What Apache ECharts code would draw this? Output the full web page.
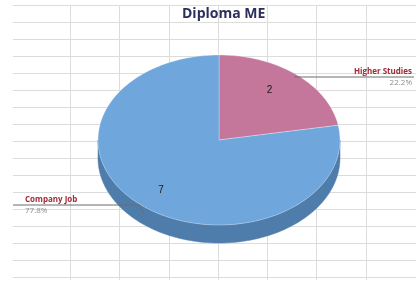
<!DOCTYPE html>
<html>
<head>
<meta charset="utf-8">
<script src="https://cdn.jsdelivr.net/npm/echarts@6/dist/echarts.min.js"></script>
<style>
  html, body { margin: 0; padding: 0; background: #fff; }
  #chart { width: 416px; height: 293px; }
</style>
</head>
<body>
<div id="chart"></div>
<script>
// slice data
var categories = ['Higher Studies', 'Company Job']
var counts = [2, 7]
var topColors = ['#C4769B', '#6FA6DC']
var sideColors = ['#9A5577', '#4E7DAB']

var total = counts.reduce(function (a, b) { return a + b }, 0)

// fake 3d pie geometry
var cx = 219
var cy = 140
var rx = 121
var ry = 85
var depth = 18

function pt (a, r, dy) {
  return [cx + rx * r * Math.sin(a), cy - ry * r * Math.cos(a) + (dy || 0)]
}

function arcPoints (a0, a1, dy) {
  var pts = []
  var n = Math.max(2, Math.ceil((a1 - a0) / 0.02))
  for (var i = 0; i <= n; i++) pts.push(pt(a0 + (a1 - a0) * i / n, 1, dy))
  return pts
}

function renderSlice (params, api) {
  var idx = params.dataIndex
  var before = 0
  for (var i = 0; i < idx; i++) before += counts[i]
  var a0 = before / total * Math.PI * 2
  var a1 = (before + counts[idx]) / total * Math.PI * 2
  var children = []

  // front side wall (only the half facing the viewer)
  var s0 = Math.max(a0, Math.PI / 2)
  var s1 = Math.min(a1, Math.PI * 1.5)
  if (s1 > s0) {
    var upper = arcPoints(s0, s1, 0)
    var lower = arcPoints(s0, s1, depth).reverse()
    children.push({
      type: 'polygon',
      shape: { points: upper.concat(lower) },
      style: { fill: sideColors[idx], stroke: sideColors[idx], lineWidth: 0.5 }
    })
  }

  // top face
  children.push({
    type: 'polygon',
    shape: { points: [[cx, cy]].concat(arcPoints(a0, a1, 0)) },
    style: { fill: topColors[idx], stroke: '#ffffff', lineWidth: 0.6, strokeOpacity: 0.5 }
  })

  // value inside the slice
  var mid = (a0 + a1) / 2
  var lp = pt(mid + (Math.sin(mid) > 0 ? -0.08 : 0.03), 0.72, 0)
  children.push({
    type: 'text',
    x: lp[0],
    y: lp[1] + (Math.sin(mid) > 0 ? 0 : 5),
    style: {
      text: String(counts[idx]),
      fill: '#1a1a1a',
      font: '10px "Liberation Sans", sans-serif',
      align: 'center',
      verticalAlign: 'middle'
    }
  })

  // outside name + percent with leader line
  var pct = (counts[idx] / total * 100).toFixed(1) + '%'
  var right = Math.sin(mid) > 0
  var edge = pt(mid, 0.97, right ? 0 : depth * 0.6)
  var lineY = right ? 77 : 205
  var endX = right ? 414 : 13
  children.push({
    type: 'polyline',
    shape: { points: [[edge[0], edge[1]], [right ? 300 : 140, lineY], [endX, lineY]] },
    style: { stroke: '#6d6d6d', lineWidth: 1, fill: null }
  })
  children.push({
    type: 'text',
    x: right ? 412 : 25,
    y: lineY - 1,
    style: {
      text: categories[idx],
      fill: '#A32A36',
      font: 'bold 8px "Open Sans", sans-serif',
      align: right ? 'right' : 'left',
      verticalAlign: 'bottom'
    }
  })
  children.push({
    type: 'text',
    x: right ? 412 : 25,
    y: lineY + 2,
    style: {
      text: pct,
      fill: '#8c8c8c',
      font: '8px "Open Sans", sans-serif',
      align: right ? 'right' : 'left',
      verticalAlign: 'top'
    }
  })

  return { type: 'group', children: children }
}

var hiddenAxis = {
  axisLine: { show: false }, axisTick: { show: false }, axisLabel: { show: false }
}

var chart = echarts.init(document.getElementById('chart'), null, { renderer: 'canvas' })
chart.setOption({
  backgroundColor: '#ffffff',
  animation: false,
  title: {
    text: 'Diploma ME',
    left: 177,
    top: 2,
    textStyle: { fontFamily: 'Open Sans', fontWeight: 'bold', fontSize: 14, color: '#2B2F5C' }
  },
  // spreadsheet cell grid behind the chart: rows in grid 0, columns in grid 1
  grid: [
    { left: 13, top: 5, width: 403, height: 272 },
    { left: 21, top: 5, width: 394, height: 275 }
  ],
  xAxis: [
    Object.assign({ type: 'value', gridIndex: 0, min: 0, max: 1, splitLine: { show: false } }, hiddenAxis),
    Object.assign({
      type: 'value', gridIndex: 1, min: 0, max: 8, interval: 1,
      splitLine: { show: true, showMinLine: false, showMaxLine: false, lineStyle: { color: '#dcdcdc', width: 1 } }
    }, hiddenAxis)
  ],
  yAxis: [
    Object.assign({
      type: 'value', gridIndex: 0, min: 0, max: 16, interval: 1,
      splitLine: { show: true, lineStyle: { color: '#dcdcdc', width: 1 } }
    }, hiddenAxis),
    Object.assign({ type: 'value', gridIndex: 1, min: 0, max: 1, splitLine: { show: false } }, hiddenAxis)
  ],
  series: [{
    type: 'custom',
    coordinateSystem: 'none',
    renderItem: renderSlice,
    data: counts
  }]
})
</script>
</body>
</html>
